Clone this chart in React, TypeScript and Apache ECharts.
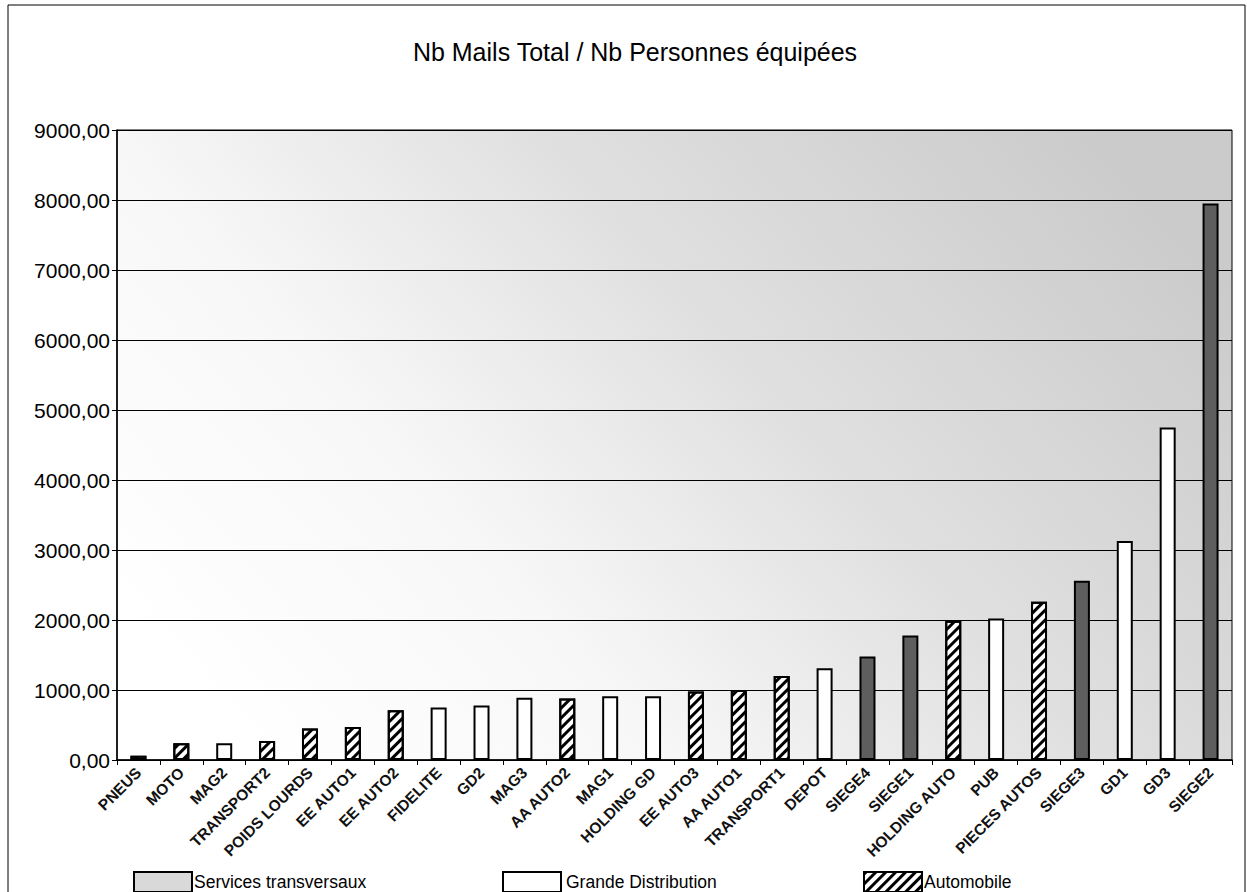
import React, { useEffect, useRef } from "react";
import * as echarts from "echarts";

const categories = [
  "PNEUS", "MOTO", "MAG2", "TRANSPORT2", "POIDS LOURDS", "EE AUTO1", "EE AUTO2",
  "FIDELITE", "GD2", "MAG3", "AA AUTO2", "MAG1", "HOLDING GD", "EE AUTO3",
  "AA AUTO1", "TRANSPORT1", "DEPOT", "SIEGE4", "SIEGE1", "HOLDING AUTO", "PUB",
  "PIECES AUTOS", "SIEGE3", "GD1", "GD3", "SIEGE2",
];
const values = [
  60, 240, 240, 270, 450, 470, 710,
  750, 780, 890, 880, 910, 910, 980,
  1000, 1200, 1310, 1480, 1780, 1990, 2020,
  2260, 2560, 3130, 4750, 7950,
];
// S = Services transversaux, G = Grande Distribution, A = Automobile
const groups = [
  "A", "A", "G", "A", "A", "A", "A",
  "G", "G", "G", "A", "G", "G", "A",
  "A", "A", "G", "S", "S", "A", "G",
  "A", "S", "G", "G", "S",
];
const seriesNames = { S: "Services transversaux", G: "Grande Distribution", A: "Automobile" };
const yTicks = [0, 1000, 2000, 3000, 4000, 5000, 6000, 7000, 8000, 9000];
const title = "Nb Mails Total / Nb Personnes équipées";

const FONT = "Liberation Sans, Arial, sans-serif";

export default function App() {
  const ref = useRef<HTMLDivElement>(null);
  useEffect(() => {
    if (!ref.current) return;
    const chart = echarts.init(ref.current, null, { renderer: "svg" });
    const dataFor = (g: string) => values.map((v, i) => (groups[i] === g ? v : "-"));
    const hatch = {
      symbol: "rect",
      symbolSize: 1,
      color: "#000",
      backgroundColor: "#fff",
      dashArrayX: [1, 0],
      dashArrayY: [3, 4],
      rotation: -Math.PI / 4,
    };
    const baseBar = {
      type: "bar",
      barWidth: 16,
      barGap: "-100%",
      z: 3,
    };
    const option = {
      animation: false,
      backgroundColor: "#fff",
      title: {
        text: title,
        left: 630,
        textAlign: "center",
        top: 34,
        textStyle: { fontFamily: FONT, fontSize: 25, fontWeight: "normal", color: "#000" },
      },
      graphic: [
        {
          type: "rect",
          shape: { x: 8, y: 5, width: 1237, height: 890 },
          style: { fill: "none", stroke: "#000", lineWidth: 1 },
          silent: true,
        },
      ],
      grid: {
        left: 117,
        right: 15,
        top: 130,
        bottom: 132,
        show: true,
        borderColor: "#000",
        borderWidth: 1,
        backgroundColor: new echarts.graphic.LinearGradient(0, 0.75, 1, 0.25, [
          { offset: 0, color: "#ffffff" },
          { offset: 0.3, color: "#f7f7f7" },
          { offset: 0.6, color: "#e0e0e0" },
          { offset: 1, color: "#cbcbcb" },
        ]),
      },
      legend: [
        {
          data: [{ name: seriesNames.S, itemStyle: { color: "#d9d9d9", decal: "none" } }],
          left: 128,
          top: 866,
          itemWidth: 58,
          itemHeight: 20,
          icon: "rect",
          textStyle: { fontFamily: FONT, fontSize: 17.5, color: "#000", padding: [0, 0, 0, -3] },
        },
        {
          data: [seriesNames.G],
          left: 497,
          top: 866,
          itemWidth: 58,
          itemHeight: 20,
          icon: "rect",
          textStyle: { fontFamily: FONT, fontSize: 17.5, color: "#000" },
        },
        {
          data: [seriesNames.A],
          left: 858,
          top: 866,
          itemWidth: 58,
          itemHeight: 20,
          icon: "rect",
          textStyle: { fontFamily: FONT, fontSize: 17.5, color: "#000", padding: [0, 0, 0, -3] },
        },
      ],
      xAxis: {
        type: "category",
        data: categories,
        boundaryGap: true,
        axisLine: { lineStyle: { color: "#000", width: 1.5 } },
        axisTick: { show: true, alignWithLabel: false, length: 5, lineStyle: { color: "#000" } },
        axisLabel: {
          interval: 0,
          rotate: 45,
          fontFamily: FONT,
          fontSize: 15.5,
          fontWeight: "bold",
          color: "#111",
          margin: 10,
        },
      },
      yAxis: {
        type: "value",
        min: yTicks[0],
        max: yTicks[yTicks.length - 1],
        interval: 1000,
        axisLine: { show: true, lineStyle: { color: "#000", width: 1.5 } },
        axisTick: { show: true, length: 5, lineStyle: { color: "#000" } },
        splitLine: { show: true, lineStyle: { color: "#000", width: 1 } },
        axisLabel: {
          fontFamily: FONT,
          fontSize: 21,
          color: "#000",
          margin: 7,
          formatter: (v: number) => v.toFixed(2).replace(".", ","),
        },
      },
      series: [
        {
          ...baseBar,
          name: seriesNames.S,
          data: dataFor("S"),
          itemStyle: { color: "#5e5e5e", borderColor: "#000", borderWidth: 2 },
        },
        {
          ...baseBar,
          name: seriesNames.G,
          data: dataFor("G"),
          itemStyle: { color: "#ffffff", borderColor: "#000", borderWidth: 2 },
        },
        {
          ...baseBar,
          name: seriesNames.A,
          data: dataFor("A"),
          itemStyle: { color: "#ffffff", borderColor: "#000", borderWidth: 2, decal: hatch },
        },
      ],
    };
    chart.setOption(option as any);
    return () => chart.dispose();
  }, []);
  return (
    <div
      ref={ref}
      style={{ position: "absolute", left: 0, top: 0, width: 1247, height: 892 }}
    />
  );
}
